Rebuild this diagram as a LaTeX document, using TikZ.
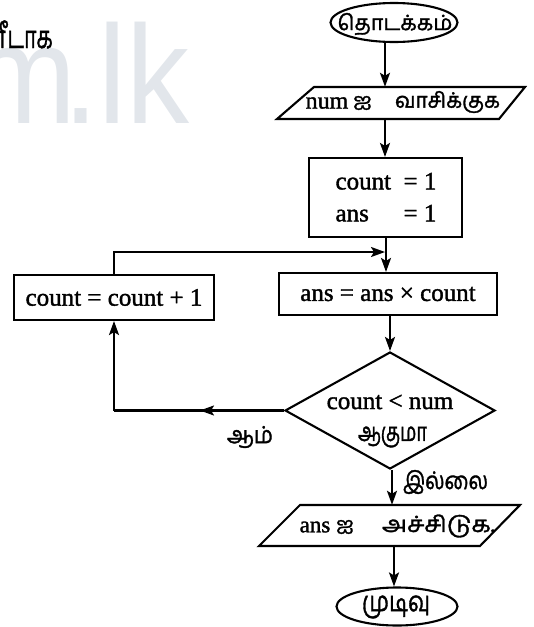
\documentclass[tikz,border=0pt]{standalone}
\usepackage{fontspec}
\setmainfont{Liberation Serif}[RawFeature={embolden=1.5}]
\newfontfamily\tam{Hind Madurai}[Script=Tamil,RawFeature={embolden=1.5}]
\newfontfamily\wmfont{Liberation Sans}
\usetikzlibrary{shapes.geometric,arrows.meta,calc}
\definecolor{wm}{RGB}{226,230,235}
\newcommand{\tamw}[3]{\resizebox*{#1}{#2}{\tam\fontsize{24}{28}\selectfont #3}}
\begin{document}
\begin{tikzpicture}[x=1pt,y=-1pt,
  line/.style={line width=2.1pt},
  arr/.style={line, -{Stealth[length=14pt,width=10pt,inset=3pt]}},
  box/.style={draw, line width=2.1pt, rectangle, inner sep=0pt},
  txt/.style={font=\fontsize{25}{32}\selectfont, inner sep=0pt},
  ttxt/.style={inner sep=0pt}]
\useasboundingbox (0,0) rectangle (534,627);
\begin{scope}
\clip (0,0) rectangle (534,627);
\node[anchor=base east, text=wm, inner sep=0pt, font=\wmfont\fontsize{140}{140}\selectfont] (wmark) at (190,123) {\scalebox{0.9}[1]{m\kern-0.1em.lk}};
\node[ttxt, anchor=base east] (prev) at (53,48) {\scalebox{0.85}[1.25]{\tam\fontsize{25}{28}\selectfont உள்ளீடாக}};
\end{scope}

% shapes
\node[draw, line, ellipse, minimum width=127pt, minimum height=39pt, inner sep=0pt] (start) at (394,22.5) {};
\node[ttxt] (starttxt) at (395,24) {\tamw{115pt}{22pt}{தொடக்கம்}};
\node[inner sep=0pt, minimum width=220pt, minimum height=32pt] (in) at (401,103) {};
\draw[line] (277,119) -- (314,87) -- (525,87) -- (499,119) -- cycle;
\node[txt, font=\fontsize{24}{28}\selectfont] (in1) at (327,103) {num};
\node[ttxt] (in2) at (362.5,103) {\tamw{19pt}{14pt}{ஐ}};
\node[ttxt] (in3) at (447.5,102) {\tamw{105pt}{22pt}{வாசிக்குக}};
\node[box, minimum width=153pt, minimum height=79pt] (init) at (385.5,197.5) {};
\node[txt] (inittxt) at (386,199) {\begin{tabular}{@{}l@{\ \ }l@{}}count & = 1\\ ans & = 1\end{tabular}};
\node[box, txt, minimum width=218pt, minimum height=42pt] (calc) at (388,294) {ans = ans × count};
\node[box, txt, minimum width=200pt, minimum height=45pt] (upd) at (114,297.5) {count = count + 1};
\node[draw, line, diamond, minimum width=210pt, minimum height=117pt, inner sep=0pt] (dia) at (390,410.5) {};
\node[txt] (cond1) at (390,402) {count < num};
\node[ttxt] (cond2) at (392.5,437) {\tamw{69pt}{21pt}{ஆகுமா}};
\node[inner sep=0pt, minimum width=220pt, minimum height=41pt] (out) at (390,525.5) {};
\draw[line] (259,546) -- (300,505) -- (520,505) -- (480,546) -- cycle;
\node[txt, font=\fontsize{23}{28}\selectfont] (out1) at (315,527) {ans};
\node[ttxt] (out2) at (345,527) {\tamw{18pt}{14pt}{ஐ}};
\node[ttxt] (out3) at (438.5,526) {\tamw{113pt}{23pt}{அச்சிடுக.}};
\node[draw, line, ellipse, minimum width=121pt, minimum height=38pt, inner sep=0pt] (end) at (397,606.5) {};
\node[ttxt] (endtxt) at (396,607) {\tamw{68pt}{23pt}{முடிவு}};
\node[ttxt] (yes) at (250,437) {\tamw{46pt}{22pt}{ஆம்}};
\node[ttxt] (no) at (445.5,482) {\tamw{85pt}{24pt}{இல்லை}};

% connectors
\coordinate (c1) at (385,0);
\coordinate (c2) at (386,0);
\coordinate (merge) at (385,252);
\coordinate (yesarr) at (200,410.5);
\draw[arr] (start.south -| c1) -- (in.north -| c1);
\draw[arr] (in.south -| c1) -- (init.north -| c1);
\draw[arr] (init.south -| c2) -- (calc.north -| c2);
\draw[arr] (calc.south -| dia.north) -- (dia.north);
\draw[arr] ([xshift=2pt]dia.south) -- ([xshift=2pt]dia.south |- out.north);
\draw[arr] ([xshift=-3pt]out.south -| end.north) -- ([xshift=-3pt]end.north);
\draw[line] (dia.west) -- (dia.west -| upd.south);
\draw[arr] (dia.west -| upd.south) -- (upd.south);
\draw[arr] (dia.west) -- (yesarr);
\draw[arr] (upd.north) -- (upd.north |- merge) -- (merge);
\end{tikzpicture}
\end{document}
